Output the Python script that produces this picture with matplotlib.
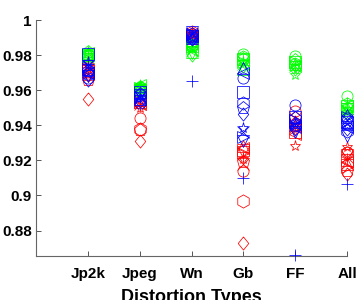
import matplotlib
matplotlib.use("Agg")
import matplotlib.pyplot as plt
import numpy as np

plt.rcParams["font.family"] = ["Liberation Sans", "DejaVu Sans"]
plt.rcParams["font.weight"] = "bold"

categories = ["Jp2k", "Jpeg", "Wn", "Gb", "FF", "All"]
markers = ["o", "+", "*", "x", "s", "d", "^", "v", ">", "<", "p", "h"]

# one row per category, one column per marker
red_vals = [
    [0.970, 0.973, 0.974, 0.972, 0.971, 0.9548, 0.969, 0.968, 0.972, 0.970, 0.966, 0.973],
    [0.944, 0.951, 0.950, 0.952, 0.953, 0.9313, 0.955, 0.954, 0.953, 0.952, 0.9375, 0.938],
    [0.992, 0.993, 0.992, 0.991, 0.990, 0.991, 0.992, 0.991, 0.990, 0.991, 0.992, 0.993],
    [0.914, 0.9213, 0.921, 0.918, 0.926, 0.8729, 0.928, 0.925, 0.924, 0.927, 0.919, 0.8967],
    [0.948, 0.941, 0.928, 0.939, 0.936, 0.942, 0.940, 0.938, 0.943, 0.935, 0.944, 0.941],
    [0.925, 0.921, 0.9277, 0.922, 0.920, 0.912, 0.918, 0.923, 0.916, 0.919, 0.914, 0.924],
]
green_vals = [
    [0.980, 0.981, 0.982, 0.979, 0.980, 0.978, 0.981, 0.979, 0.980, 0.981, 0.982, 0.980],
    [0.962, 0.963, 0.962, 0.961, 0.960, 0.961, 0.962, 0.960, 0.961, 0.963, 0.962, 0.961],
    [0.986, 0.985, 0.984, 0.983, 0.985, 0.980, 0.982, 0.981, 0.984, 0.983, 0.985, 0.986],
    [0.9807, 0.977, 0.976, 0.975, 0.978, 0.974, 0.972, 0.977, 0.976, 0.975, 0.978, 0.979],
    [0.9795, 0.975, 0.9686, 0.974, 0.976, 0.972, 0.975, 0.973, 0.976, 0.974, 0.977, 0.975],
    [0.9565, 0.9525, 0.949, 0.948, 0.951, 0.947, 0.950, 0.949, 0.948, 0.951, 0.950, 0.952],
]
blue_vals = [
    [0.967, 0.975, 0.976, 0.974, 0.9805, 0.966, 0.972, 0.968, 0.973, 0.970, 0.971, 0.969],
    [0.9525, 0.957, 0.958, 0.956, 0.959, 0.954, 0.955, 0.957, 0.956, 0.955, 0.958, 0.957],
    [0.991, 0.9653, 0.990, 0.992, 0.991, 0.989, 0.990, 0.993, 0.992, 0.991, 0.990, 0.992],
    [0.967, 0.9098, 0.9386, 0.936, 0.959, 0.9467, 0.9726, 0.931, 0.9334, 0.970, 0.950, 0.9525],
    [0.9515, 0.866, 0.941, 0.940, 0.945, 0.938, 0.942, 0.936, 0.943, 0.939, 0.944, 0.940],
    [0.944, 0.9063, 0.940, 0.943, 0.942, 0.938, 0.946, 0.934, 0.945, 0.939, 0.941, 0.937],
]

# MATLAB-like diamond (wider than matplotlib's thin 'd')
diamond = [(0, 1), (0.8, 0), (0, -1), (-0.8, 0), (0, 1)]

fig = plt.figure(figsize=(3.59, 3.0), dpi=100)
ax = fig.add_axes([36 / 359, 44 / 300, 311 / 359, 236 / 300])

x = np.arange(1, len(categories) + 1)
for vals, color in [(red_vals, "#ff0000"), (green_vals, "#00ff00"), (blue_vals, "#0000ff")]:
    arr = np.array(vals)
    for j, m in enumerate(markers):
        mk = diamond if m == "d" else m
        size = 9.5 if m in ("d", "p", "h") else 8
        ax.plot(x, arr[:, j], linestyle="none", marker=mk, markersize=size,
                markerfacecolor="none", markeredgecolor=color, markeredgewidth=0.55,
                clip_on=False, zorder=3)

ax.set_xlim(0, 6)
ax.set_ylim(0.8655, 1.0)
ax.set_xticks(x)
ax.set_xticklabels(categories)
ax.set_yticks([0.88, 0.9, 0.92, 0.94, 0.96, 0.98, 1.0])
ax.set_yticklabels(["0.88", "0.9", "0.92", "0.94", "0.96", "0.98", "1"])
ax.tick_params(direction="in", length=3.5, width=0.7, color="#555555", labelsize=11)
ax.tick_params(axis="x", pad=8)
ax.tick_params(axis="y", pad=3)
for side in ("top", "right"):
    ax.spines[side].set_visible(False)
for side in ("left", "bottom"):
    ax.spines[side].set_color("#666666")
    ax.spines[side].set_linewidth(0.8)

ax.set_xlabel("Distortion Types", fontsize=13, fontweight="bold", labelpad=6)

fig.savefig("out.png", dpi=100)
